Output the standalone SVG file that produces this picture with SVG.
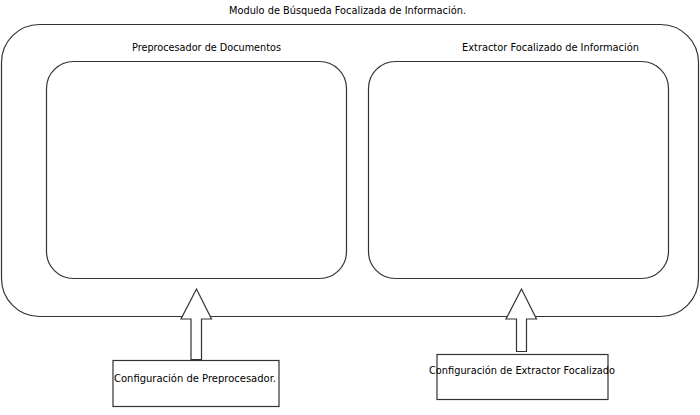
<svg xmlns="http://www.w3.org/2000/svg" width="700" height="415" viewBox="0 0 700 415">
<style>
.box{fill:#fff;stroke:#333;stroke-width:1.2}
.lbl{font-family:"DejaVu Sans",sans-serif;font-size:10px;fill:#000}
.arr{fill:#fff;stroke:#333;stroke-width:1.2}
</style>
<rect width="700" height="415" fill="#fff"/>
<g id="modulo">
<rect class="box" x="1.5" y="24.5" width="697" height="292" rx="38" ry="38"/>
<text class="lbl" x="229" y="14" textLength="237" lengthAdjust="spacingAndGlyphs">Modulo de Búsqueda Focalizada de Información.</text>
</g>
<g id="preprocesador">
<rect class="box" x="46.5" y="61.5" width="300" height="217" rx="27" ry="27"/>
<text class="lbl" x="132" y="51" textLength="149" lengthAdjust="spacingAndGlyphs">Preprocesador de Documentos</text>
</g>
<g id="extractor">
<rect class="box" x="368.5" y="61.5" width="300" height="217" rx="27" ry="27"/>
<text class="lbl" x="462" y="51" textLength="177" lengthAdjust="spacingAndGlyphs">Extractor Focalizado de Información</text>
</g>
<g id="config-preprocesador">
<rect class="box" x="113" y="360.5" width="166" height="46"/>
<text class="lbl" x="114" y="382" textLength="162" lengthAdjust="spacingAndGlyphs">Configuración de Preprocesador.</text>
</g>
<g id="config-extractor">
<rect class="box" x="437" y="354.5" width="171" height="45"/>
<text class="lbl" x="429" y="374" textLength="186" lengthAdjust="spacingAndGlyphs">Configuración de Extractor Focalizado</text>
</g>
<g id="connectors">
<polygon class="arr" points="196.5,289 181,319 191,319 191,359.5 201.5,359.5 201.5,319 211.5,319"/>
<polygon class="arr" points="521.5,289 506,319 516.5,319 516.5,351.5 526.5,351.5 526.5,319 536.5,319"/>
</g>
</svg>
